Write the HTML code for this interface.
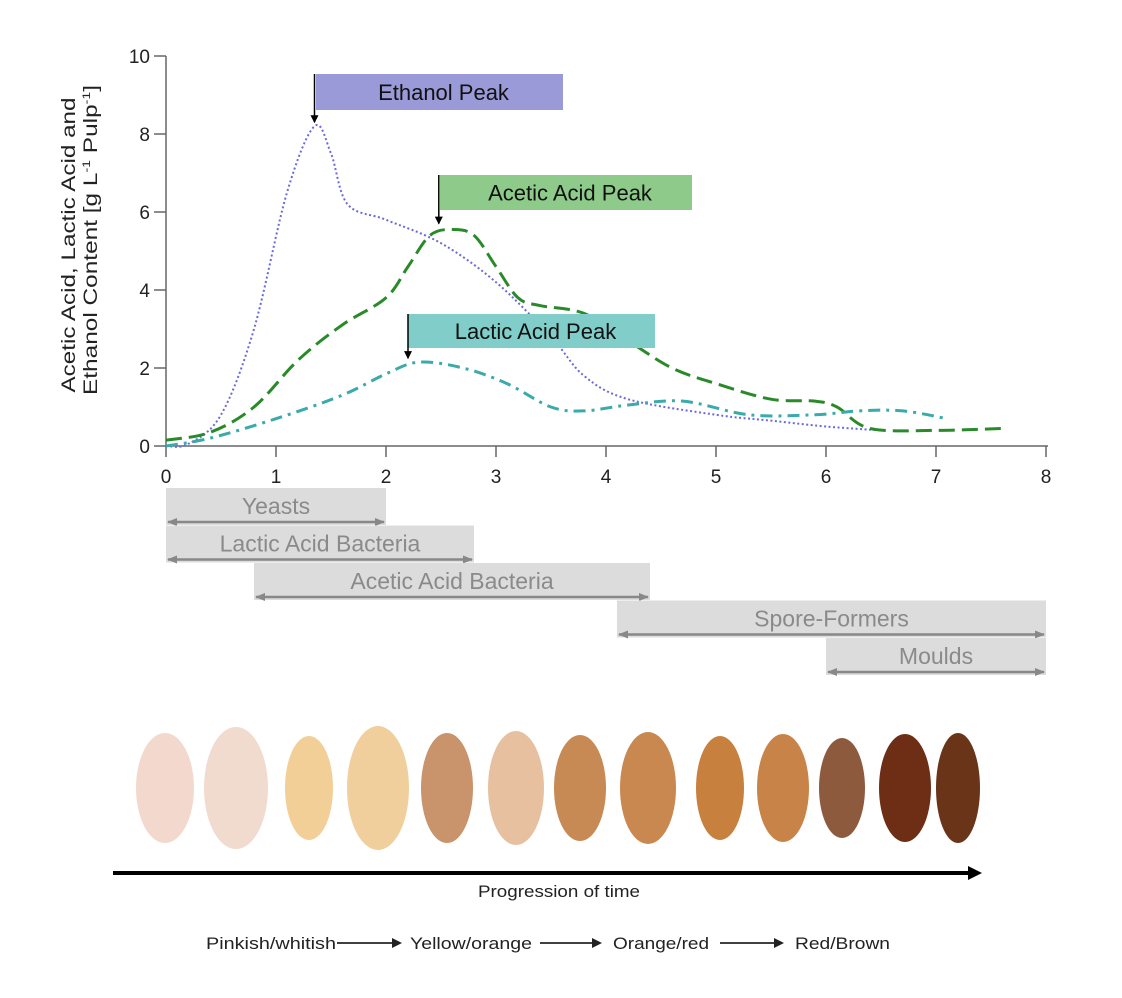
<!DOCTYPE html>
<html><head><meta charset="utf-8"><style>
html,body{margin:0;padding:0;background:#fff;}
svg{display:block;font-family:"Liberation Sans",sans-serif;}
</style></head><body>
<svg id="chart" width="1122" height="998" viewBox="0 0 1122 998">
<defs>
<marker id="ah" markerWidth="8" markerHeight="8" refX="7" refY="4" orient="auto" markerUnits="userSpaceOnUse"><path d="M0,0 L8,4 L0,8 z" fill="#000"/></marker>
<marker id="ga" markerWidth="10" markerHeight="10" refX="9" refY="5" orient="auto-start-reverse" markerUnits="userSpaceOnUse"><path d="M0,1 L10,5 L0,9 z" fill="#888"/></marker>
</defs>
<g id="axes"></g>
<g id="series"></g>
<g id="annot"></g>
<g id="microbes"></g>
<g id="beans"></g>
<text transform="translate(75,245) rotate(-90)" text-anchor="middle" font-size="19" fill="#222" textLength="295" lengthAdjust="spacingAndGlyphs">Acetic Acid, Lactic Acid and</text>
<text transform="translate(97,240) rotate(-90)" text-anchor="middle" font-size="19" fill="#222" textLength="310" lengthAdjust="spacingAndGlyphs">Ethanol Content [g L<tspan font-size="11" dy="-7">-1</tspan><tspan dy="7"> Pulp</tspan><tspan font-size="11" dy="-7">-1</tspan><tspan dy="7">]</tspan></text>
<line x1="113" y1="873" x2="970" y2="873" stroke="#000" stroke-width="4"/>
<path d="M968,866 L982,873 L968,880 z" fill="#000"/>
<text x="478" y="897" font-size="17" fill="#222" textLength="162" lengthAdjust="spacingAndGlyphs">Progression of time</text>
<g font-size="17" fill="#222">
<text x="206" y="949" textLength="130" lengthAdjust="spacingAndGlyphs">Pinkish/whitish</text>
<line x1="337" y1="943" x2="394" y2="943" stroke="#000" stroke-width="1.5"/><path d="M392,938 L402,943 L392,948z"/>
<text x="410" y="949" textLength="122" lengthAdjust="spacingAndGlyphs">Yellow/orange</text>
<line x1="540" y1="943" x2="594" y2="943" stroke="#000" stroke-width="1.5"/><path d="M592,938 L602,943 L592,948z"/>
<text x="613" y="949" textLength="96" lengthAdjust="spacingAndGlyphs">Orange/red</text>
<line x1="720" y1="943" x2="776" y2="943" stroke="#000" stroke-width="1.5"/><path d="M774,938 L784,943 L774,948z"/>
<text x="795" y="949" textLength="95" lengthAdjust="spacingAndGlyphs">Red/Brown</text>
</g>
</svg>
<script>
const NS='http://www.w3.org/2000/svg';
const xTicks=[0,1,2,3,4,5,6,7,8];
const yTicks=[0,2,4,6,8,10];
const ethanolX=[0,0.2,0.5,0.8,1.1,1.35,1.5,1.65,2,2.5,3,3.5,3.8,4.2,5,5.5,6,6.5];
const ethanolY=[0,0.05,0.8,3,6.5,8.2,7.5,6.2,5.8,5.2,4.2,2.8,1.8,1.2,0.8,0.65,0.5,0.4];
const aceticX=[0,0.4,0.8,1.2,1.6,2,2.2,2.4,2.6,2.8,3,3.2,3.4,3.8,4.2,4.6,5,5.5,5.9,6.1,6.4,7,7.6];
const aceticY=[0.15,0.35,1,2.2,3.1,3.8,4.6,5.4,5.55,5.4,4.6,3.8,3.6,3.4,2.7,2,1.6,1.2,1.15,1,0.45,0.4,0.45];
const lacticX=[0,0.4,1,1.6,2,2.3,2.7,3.1,3.5,3.8,4.2,4.7,5.3,5.9,6.3,6.7,7.1];
const lacticY=[0,0.2,0.7,1.3,1.85,2.15,2,1.6,1,0.9,1.05,1.15,0.8,0.8,0.9,0.9,0.7];
const microbeNames=['Yeasts','Lactic Acid Bacteria','Acetic Acid Bacteria','Spore-Formers','Moulds'];
const microbeStart=[0,0,0.8,4.1,6];
const microbeEnd=[2,2.8,4.4,8,8];
const sx=v=>166+v*110, sy=v=>446-v*39;
function mk(tag,attrs,parent){const e=document.createElementNS(NS,tag);for(const k in attrs)e.setAttribute(k,attrs[k]);parent.appendChild(e);return e;}
const ax=document.getElementById('axes');
const xl=mk('line',{x1:166,y1:446,x2:1048,y2:446,stroke:'#666','stroke-width':1.5},ax);


const yl=mk('line',{x1:166,y1:56,x2:166,y2:446,stroke:'#666','stroke-width':1.5},ax);


xTicks.forEach(t=>{mk('line',{x1:sx(t),y1:446,x2:sx(t),y2:457,stroke:'#666','stroke-width':1.5},ax);
const tx=mk('text',{x:sx(t),y:483,'text-anchor':'middle','font-size':19,fill:'#222'},ax);tx.textContent=t;

});
yTicks.forEach(t=>{mk('line',{x1:154,y1:sy(t),x2:166,y2:sy(t),stroke:'#666','stroke-width':1.5},ax);
const tx=mk('text',{x:150,y:sy(t)+7,'text-anchor':'end','font-size':19,fill:'#222'},ax);tx.textContent=t;

});
function smooth(xs,ys){const p=xs.map((x,i)=>[sx(x),sy(ys[i])]);let d='M'+p[0];for(let i=0;i<p.length-1;i++){const p0=p[i-1]||p[i],p1=p[i],p2=p[i+1],p3=p[i+2]||p2;
d+=` C${p1[0]+(p2[0]-p0[0])/6},${p1[1]+(p2[1]-p0[1])/6} ${p2[0]-(p3[0]-p1[0])/6},${p2[1]-(p3[1]-p1[1])/6} ${p2[0]},${p2[1]}`;}return d;}
const se=document.getElementById('series');
const e1=mk('path',{d:smooth(ethanolX,ethanolY),fill:'none',stroke:'#6a6ad8','stroke-width':2,'stroke-dasharray':'2 2.5'},se);


const e2=mk('path',{d:smooth(aceticX,aceticY),fill:'none',stroke:'#2a8a2a','stroke-width':3,'stroke-dasharray':'16 7'},se);


const e3=mk('path',{d:smooth(lacticX,lacticY),fill:'none',stroke:'#3aaaaa','stroke-width':3,'stroke-dasharray':'12 6 3 6'},se);


const an=document.getElementById('annot');
function peak(name,xi,yv,boxX,boxY,w,h,color,label){const g=mk('g',{},an);


mk('rect',{x:boxX,y:boxY,width:w,height:h,fill:color},g);
mk('line',{x1:sx(xi),y1:boxY,x2:sx(xi),y2:sy(yv)-4,stroke:'#000','stroke-width':1.5,'marker-end':'url(#ah)'},g);
const t=mk('text',{x:boxX+w/2+4,y:boxY+h/2+8,'text-anchor':'middle','font-size':22,fill:'#111'},g);t.textContent=label;}
peak('ethanol-peak-label',1.35,8.2,316,74,247,36,'#9a9ad8','Ethanol Peak');
peak('acetic-acid-peak-label',2.48,5.6,440,175,252,35,'#8ecb8a','Acetic Acid Peak');
peak('lactic-acid-peak-label',2.2,2.15,408,314,247,34,'#80cdca','Lactic Acid Peak');
const mb=document.getElementById('microbes');
microbeNames.forEach((n,i)=>{const g=mk('g',{},mb);


const top=488+i*37.5,x1=sx(microbeStart[i]),x2=sx(microbeEnd[i]);
mk('rect',{x:x1,y:top,width:x2-x1,height:37,fill:'#dcdcdc'},g);
mk('line',{x1:x1+2,y1:top+34,x2:x2-2,y2:top+34,stroke:'#888','stroke-width':2.5,'marker-start':'url(#ga)','marker-end':'url(#ga)'},g);
const t=mk('text',{x:(x1+x2)/2,y:top+26,'text-anchor':'middle','font-size':23,fill:'#8a8a8a'},g);t.textContent=n;});
const beanX=[165,236,309,378,447,516,580,648,720,783,842,905,958];
const beanW=[58,64,48,62,52,56,52,56,48,52,46,52,44];
const beanH=[110,122,104,124,110,114,106,112,104,108,100,108,110];
const beanC=['#f3d9cd','#f1dace','#f3cf98','#f1cf9c','#c9936c','#e7c0a0','#c88a54','#c98850','#c8803e','#c88448','#8e5a3e','#6e2e16','#6a3418'];
const bg=document.getElementById('beans');
beanX.forEach((x,i)=>{const b=mk('ellipse',{cx:x,cy:788,rx:beanW[i]/2,ry:beanH[i]/2,fill:beanC[i]},bg);

});
</script>
</body></html>
